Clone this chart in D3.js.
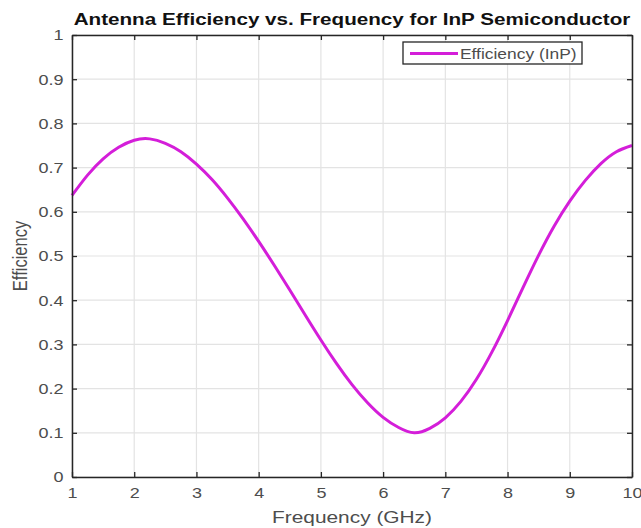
<!DOCTYPE html>
<html>
<head>
<meta charset="utf-8">
<script src="https://cdn.jsdelivr.net/npm/d3@7"></script>
<style>
  body { margin: 0; background: #fff; }
  svg { font-family: "Liberation Sans", Arial, sans-serif; }
</style>
</head>
<body>
<div id="chart"></div>
<script>
// Frequency (GHz) and efficiency values
const freq = [1, 1.25, 1.5, 1.75, 2, 2.25, 2.5, 2.75, 3, 3.25, 3.5, 3.75, 4, 4.25, 4.5, 4.75,
              5, 5.25, 5.5, 5.75, 6, 6.25, 6.5, 6.75, 7, 7.25, 7.5, 7.75, 8, 8.25, 8.5, 8.75,
              9, 9.25, 9.5, 9.75, 10];
const efficiency = [0.637, 0.683, 0.720, 0.746, 0.762, 0.765, 0.755, 0.736, 0.708, 0.673, 0.631, 0.584,
                    0.533, 0.479, 0.423, 0.366, 0.310, 0.257, 0.209, 0.168, 0.135, 0.112, 0.100, 0.110,
                    0.134, 0.171, 0.221, 0.283, 0.354, 0.429, 0.502, 0.568, 0.624, 0.671, 0.709, 0.736, 0.750];
const xTicks = [1, 2, 3, 4, 5, 6, 7, 8, 9, 10];
const yTicks = [0, 0.1, 0.2, 0.3, 0.4, 0.5, 0.6, 0.7, 0.8, 0.9, 1];
const seriesName = "Efficiency (InP)";

const W = 641, H = 528;
const margin = { top: 35, right: 9, bottom: 51, left: 72 };
const width = W - margin.left - margin.right;
const height = H - margin.top - margin.bottom;
const sx = 1.2; // text in the reference is a little stretched sideways

const svg = d3.select("#chart").append("svg")
    .attr("width", W)
    .attr("height", H);

const g = svg.append("g")
    .attr("transform", `translate(${margin.left},${margin.top})`);

const x = d3.scaleLinear().domain([1, 10]).range([0, width]);
const y = d3.scaleLinear().domain([0, 1]).range([height, 0]);

const axisColor = "#262626";
const labelColor = "#4d4d4d";
const lineColor = "#d41ed9";

// grid
g.append("g")
    .selectAll("line")
    .data(xTicks)
    .enter().append("line")
    .attr("x1", d => x(d)).attr("x2", d => x(d))
    .attr("y1", 0).attr("y2", height)
    .attr("stroke", "#e3e3e3").attr("stroke-width", 1.2);

g.append("g")
    .selectAll("line")
    .data(yTicks)
    .enter().append("line")
    .attr("y1", d => y(d)).attr("y2", d => y(d))
    .attr("x1", 0).attr("x2", width)
    .attr("stroke", "#e3e3e3").attr("stroke-width", 1.2);

// curve
const data = freq.map((f, i) => ({ f: f, e: efficiency[i] }));
const line = d3.line()
    .x(d => x(d.f))
    .y(d => y(d.e))
    .curve(d3.curveNatural);

g.append("path")
    .datum(data)
    .attr("fill", "none")
    .attr("stroke", lineColor)
    .attr("stroke-width", 3)
    .attr("d", line);

// axes (ticks pointing inward, box all round)
const styleAxis = sel => {
    sel.select(".domain").attr("stroke", axisColor).attr("stroke-width", 1.5);
    sel.selectAll(".tick line").attr("stroke", axisColor).attr("stroke-width", 1.3);
    sel.selectAll(".tick text")
        .attr("fill", labelColor)
        .attr("transform", `scale(${sx},1)`)
        .style("font-size", "15px");
};

g.append("g")
    .attr("transform", `translate(0,${height})`)
    .call(d3.axisBottom(x).tickValues(xTicks).tickSize(-5).tickSizeOuter(0).tickPadding(10).tickFormat(d3.format("d")))
    .call(styleAxis);

g.append("g")
    .call(d3.axisLeft(y).tickValues(yTicks).tickSize(-5).tickSizeOuter(0).tickPadding(7)
        .tickFormat(d => d === 0 || d === 1 ? d3.format("d")(d) : d3.format(".1f")(d)))
    .call(styleAxis);

g.append("g")
    .call(d3.axisTop(x).tickValues(xTicks).tickSize(-5).tickSizeOuter(0).tickFormat(""))
    .call(styleAxis);

g.append("g")
    .attr("transform", `translate(${width},0)`)
    .call(d3.axisRight(y).tickValues(yTicks).tickSize(-5).tickSizeOuter(0).tickFormat(""))
    .call(styleAxis);

// title and axis labels
svg.append("text")
    .attr("transform", `translate(${margin.left + width / 2},25) scale(${sx},1)`)
    .attr("text-anchor", "middle")
    .attr("fill", "#111")
    .style("font-size", "17.2px")
    .style("font-weight", "bold")
    .text("Antenna Efficiency vs. Frequency for InP Semiconductor");

svg.append("text")
    .attr("transform", `translate(${margin.left + width / 2},523) scale(${sx},1)`)
    .attr("text-anchor", "middle")
    .attr("fill", labelColor)
    .style("font-size", "17.4px")
    .text("Frequency (GHz)");

svg.append("text")
    .attr("transform", `translate(27,${margin.top + height / 2}) scale(${sx},1) rotate(-90)`)
    .attr("text-anchor", "middle")
    .attr("fill", labelColor)
    .style("font-size", "16.5px")
    .text("Efficiency");

// legend
const legend = svg.append("g").attr("transform", "translate(403,42)");
legend.append("rect")
    .attr("width", 179).attr("height", 22)
    .attr("fill", "#fff")
    .attr("stroke", axisColor).attr("stroke-width", 1.3);
legend.append("line")
    .attr("x1", 7).attr("x2", 55)
    .attr("y1", 11.5).attr("y2", 11.5)
    .attr("stroke", lineColor).attr("stroke-width", 3);
legend.append("text")
    .attr("transform", `translate(57,16.5) scale(${sx},1)`)
    .attr("fill", labelColor)
    .style("font-size", "14.5px")
    .text(seriesName);
</script>
</body>
</html>
